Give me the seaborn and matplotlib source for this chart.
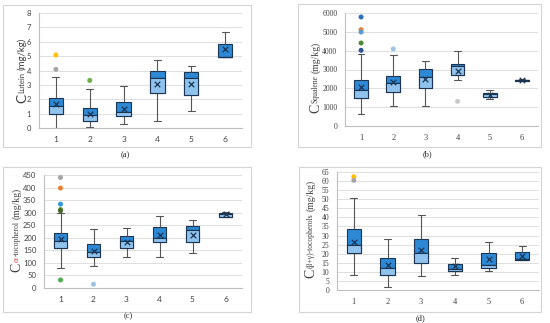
import numpy as np
import pandas as pd
import matplotlib
matplotlib.use("Agg")
import matplotlib.pyplot as plt
import seaborn as sns
from matplotlib.patches import Rectangle

GROUPS = ["1", "2", "3", "4", "5", "6"]

# (a) lutein, mg/kg
LUT_LO   = [0.00, 0.05, 0.30, 0.47, 1.19, 4.97]
LUT_Q1   = [1.00, 0.47, 0.82, 2.45, 2.33, 4.97]
LUT_MED  = [1.56, 0.93, 1.12, 3.45, 3.50, 4.97]
LUT_Q3   = [2.10, 1.42, 1.82, 3.96, 3.92, 5.83]
LUT_HI   = [3.57, 2.70, 2.94, 4.73, 4.34, 6.69]
LUT_MEAN = [1.65, 1.00, 1.35, 3.08, 3.03, 5.52]
LUT_OUT_GROUP = ["1", "1", "2"]
LUT_OUT_VALUE = [5.08, 4.08, 3.31]

# (b) squalene, mg/kg
SQU_LO   = [637, 1044, 1044, 2460, 1434, 2370]
SQU_Q1   = [1469, 1823, 2035, 2690, 1540, 2395]
SQU_MED  = [1912, 2283, 2619, 3186, 1681, 2420]
SQU_Q3   = [2425, 2673, 3044, 3310, 1770, 2445]
SQU_HI   = [3823, 3788, 3451, 3982, 1894, 2480]
SQU_MEAN = [2053, 2336, 2496, 2938, 1664, 2425]
SQU_OUT_GROUP = ["1", "1", "1", "1", "1", "2", "4"]
SQU_OUT_VALUE = [5788, 5115, 4990, 4407, 4018, 4088, 1310]

# (c) alpha-tocopherol, mg/kg
TOC_LO   = [78, 89, 125, 125, 138, 281]
TOC_Q1   = [161, 122, 158, 184, 183, 284]
TOC_MED  = [187, 145, 186, 200, 230, 293]
TOC_Q3   = [218, 174, 207, 244, 248, 300]
TOC_HI   = [298, 236, 238, 288, 271, 304]
TOC_MEAN = [196, 147, 184, 211, 211, 293]
TOC_OUT_GROUP = ["1", "1", "1", "1", "1", "1", "2"]
TOC_OUT_VALUE = [440, 398, 334, 313, 308, 32, 15]

# (d) (beta+gamma)-tocopherols, mg/kg
BGT_LO   = [8.4, 1.5, 7.9, 8.4, 10.6, 16.6]
BGT_Q1   = [20.3, 8.2, 14.7, 10.5, 12.2, 16.8]
BGT_MED  = [24.6, 11.9, 20.3, 11.8, 13.5, 17.2]
BGT_Q3   = [33.4, 17.9, 28.0, 14.3, 20.2, 20.8]
BGT_HI   = [50.9, 27.9, 41.4, 17.8, 26.4, 24.1]
BGT_MEAN = [26.7, 13.5, 22.2, 13.0, 17.0, 19.0]
BGT_OUT_GROUP = ["1", "1"]
BGT_OUT_VALUE = [62.4, 60.4]

# outlier colours (Excel palette)
LUT_OUT_COLORS = ["#FFC000", "#A5A5A5", "#70AD47"]
SQU_OUT_COLORS = ["#2E6FC0", "#ED7D31", "#5B9BD5", "#4E8A34", "#2F5597", "#9DC3E6", "#C9C9C9"]
TOC_OUT_COLORS = ["#A5A5A5", "#ED7D31", "#2E9AD8", "#70AD47", "#43682B", "#4CAF50", "#9DC3E6"]
BGT_OUT_COLORS = ["#FFC000", "#A5A5A5"]

DARK  = "#2D89D5"
LIGHT = "#8FC2EC"
NAVY  = "#1C3553"
WHISK = "#555555"
GRID  = "#D9D9D9"
AXIS  = "#BFBFBF"
TXT   = "#404040"
SANS  = ["Lato", "DejaVu Sans"]
SERIF = ["Liberation Serif", "DejaVu Serif"]

sns.set_style("white")
plt.rcParams["font.family"] = SANS

W, H = 550, 323
fig = plt.figure(figsize=(W / 100, H / 100), dpi=100)
renderer = fig.canvas.get_renderer()


def px(x0, y0, x1, y1):
    """pixel box (top-left origin) -> figure fraction rect"""
    return [x0 / W, 1 - y1 / H, (x1 - x0) / W, (y1 - y0) / H]


def draw_panel(rect, lo, q1, med, q3, hi, mean, out_g, out_v, out_c,
               ymax, ystep, family):
    ax = fig.add_axes(rect)
    long = pd.DataFrame({
        "group": np.repeat(GROUPS, 5),
        "value": np.column_stack([lo, q1, med, q3, hi]).ravel(),
    })
    sns.boxplot(
        data=long, x="group", y="value", order=GROUPS, ax=ax,
        whis=(0, 100), width=0.42, color=DARK, saturation=1,
        linecolor=NAVY, linewidth=0.8,
        whiskerprops={"color": WHISK, "linewidth": 0.8},
        capprops={"color": WHISK, "linewidth": 0.8},
        medianprops={"color": NAVY, "linewidth": 0.9},
    )
    pos = np.arange(len(GROUPS))
    # lower half of each box (Q1 -> median) in the lighter shade
    ax.bar(pos, np.subtract(med, q1), bottom=q1, width=0.42,
           color=LIGHT, edgecolor=NAVY, linewidth=0.8, zorder=3)
    ax.scatter(pos, mean, marker="x", s=16, color=NAVY, linewidths=0.9, zorder=5)
    ax.scatter([GROUPS.index(g) for g in out_g], out_v, c=out_c, s=13,
               linewidths=0, zorder=5)

    ax.set_xlim(-0.5, len(GROUPS) - 0.5)
    ax.set_ylim(0, ymax)
    ax.set_yticks(np.arange(0, ymax + ystep / 2, ystep))
    ax.set_xticks(pos)
    ax.set_xticklabels(GROUPS)
    ax.set_xticks(np.arange(-0.5, len(GROUPS), 1), minor=True)
    ax.set_xlabel("")
    ax.set_ylabel("")
    ax.yaxis.grid(True, color=GRID, linewidth=0.6)
    ax.set_axisbelow(True)
    for s in ("top", "right"):
        ax.spines[s].set_visible(False)
    for s in ("left", "bottom"):
        ax.spines[s].set_color(AXIS)
        ax.spines[s].set_linewidth(0.8)
    ax.tick_params(axis="y", length=2.5, width=0.6, color=AXIS, pad=3,
                   labelsize=5.5, labelcolor=TXT)
    ax.tick_params(axis="x", which="major", length=0, pad=6,
                   labelsize=6, labelcolor=TXT)
    ax.tick_params(axis="x", which="minor", length=3, width=0.6, color=AXIS)
    for lab in ax.get_xticklabels() + ax.get_yticklabels():
        lab.set_family(family)
    return ax


def ylabel(x, y, subs, family):
    """'C' + rotated subscript parts + '(mg/kg)', stacked upward.
    x, y in pixels from the top-left corner (bottom of the 'C')."""
    to_fig = fig.transFigure.inverted()
    c = fig.text(x / W, 1 - y / H, "C", rotation=90, ha="center", va="bottom",
                 fontsize=10, color=TXT, family=family)
    cb = c.get_window_extent(renderer)
    top = cb.y1 + 1
    for s, col, size in subs:
        fx, fy = to_fig.transform((cb.x1 - 2.5, top))
        t = fig.text(fx, fy, s, rotation=90, ha="right", va="bottom",
                     fontsize=size, color=col, family=family)
        top = t.get_window_extent(renderer).y1 + 1
    fx, fy = to_fig.transform(((cb.x0 + cb.x1) / 2, top + 1))
    fig.text(fx, fy, "(mg/kg)", rotation=90, ha="center", va="bottom",
             fontsize=7, color=TXT, family=family)


draw_panel(px(39, 13, 242, 128), LUT_LO, LUT_Q1, LUT_MED, LUT_Q3, LUT_HI,
           LUT_MEAN, LUT_OUT_GROUP, LUT_OUT_VALUE, LUT_OUT_COLORS, 8, 1, SANS)
draw_panel(px(345, 13, 538, 126), SQU_LO, SQU_Q1, SQU_MED, SQU_Q3, SQU_HI,
           SQU_MEAN, SQU_OUT_GROUP, SQU_OUT_VALUE, SQU_OUT_COLORS, 6000, 1000, SERIF)
draw_panel(px(44, 175, 242, 288), TOC_LO, TOC_Q1, TOC_MED, TOC_Q3, TOC_HI,
           TOC_MEAN, TOC_OUT_GROUP, TOC_OUT_VALUE, TOC_OUT_COLORS, 450, 50, SANS)
draw_panel(px(337, 172, 539, 290), BGT_LO, BGT_Q1, BGT_MED, BGT_Q3, BGT_HI,
           BGT_MEAN, BGT_OUT_GROUP, BGT_OUT_VALUE, BGT_OUT_COLORS, 65, 5, SERIF)

ylabel(22, 103, [("Lutein", TXT, 5.5)], SANS)
ylabel(316, 113, [("Squalene", TXT, 5.5)], SERIF)
ylabel(17, 272, [("α", "#E0403A", 6.5), ("-tocopherol", TXT, 5.5)], SERIF)
ylabel(311, 278, [("(β+γ)-tocopherols", TXT, 5.5)], SERIF)

# light frames round each panel + captions
for (x0, y0, x1, y1) in [(3, 5, 251, 147), (298, 4, 541, 147),
                         (3, 167, 251, 312), (299, 167, 541, 312)]:
    fig.add_artist(Rectangle((x0 / W, 1 - y1 / H), (x1 - x0) / W, (y1 - y0) / H,
                             transform=fig.transFigure, fill=False,
                             edgecolor="#D4D4D4", linewidth=0.8))
for cap, (x, y) in zip(["(a)", "(b)", "(c)", "(d)"],
                       [(125, 155), (427, 154), (128, 316), (421, 318)]):
    fig.text(x / W, 1 - y / H, cap, ha="center", va="center", fontsize=6,
             color="#222222", family=SERIF)

fig.savefig("out.png", dpi=100)
